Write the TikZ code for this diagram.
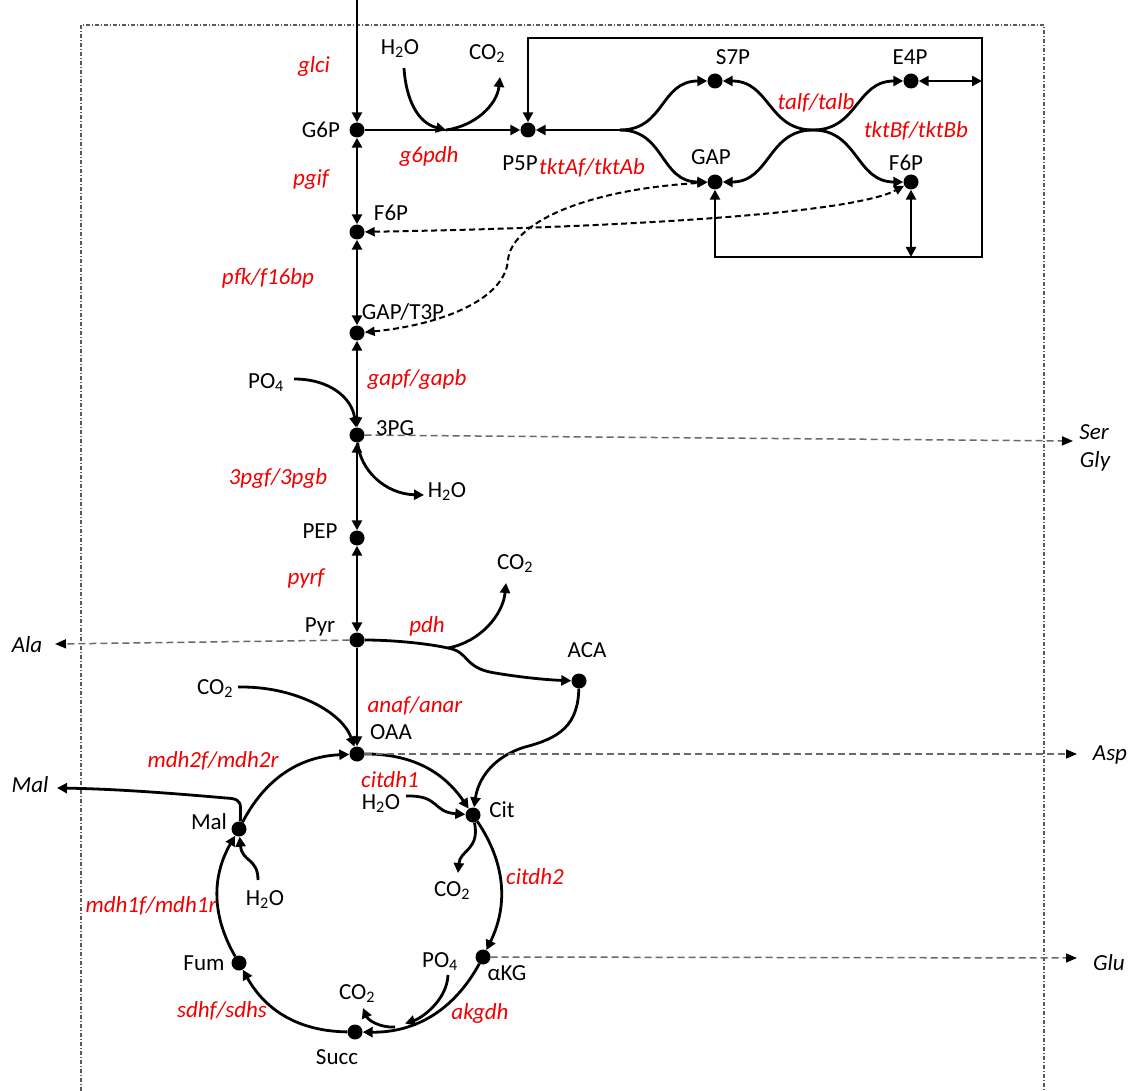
\documentclass[tikz,border=0pt]{standalone}
\usepackage{fontspec}
\setmainfont{Carlito}
\usetikzlibrary{arrows.meta}
\definecolor{rxn}{RGB}{240,0,0}
\definecolor{exgray}{RGB}{105,105,105}
\definecolor{framegray}{RGB}{90,90,90}
\begin{document}
\begin{tikzpicture}[x=1pt,y=1pt,
  mdot/.style={circle,fill=black,inner sep=0pt,minimum size=15pt},
  lab/.style={inner sep=0pt,text height=14.5pt,text depth=0pt,font=\fontsize{23}{27}\selectfont},
  enz/.style={lab,text=rxn,font=\fontsize{23}{27}\selectfont\itshape},
  exl/.style={lab,font=\fontsize{23}{27}\selectfont\itshape},
  ln/.style={line width=2.8pt},
  arr/.style={ln,-{Triangle[length=10pt,width=10pt]}},
  darr/.style={ln,{Triangle[length=10pt,width=10pt]}-{Triangle[length=10pt,width=10pt]}},
  bdash/.style={line width=2pt,dash pattern=on 6pt off 3.5pt,{Triangle[length=10pt,width=9pt]}-{Triangle[length=10pt,width=9pt]}},
  gdash/.style={exgray,line width=1.5pt,dash pattern=on 7pt off 4pt,-{Triangle[length=11pt,width=9pt,color=black]}},
  frameline/.style={framegray,line width=1.1pt,dash pattern=on 4pt off 2pt on 1pt off 2pt}
]
\useasboundingbox (0,0) rectangle (1138,-1091);
% frame
\draw[frameline] (81,-1091) -- (81,-25) -- (1044,-25) -- (1044,-1091);

% metabolite dots
\node[mdot] (G6P) at (357,-130) {};
\node[mdot] (F6Pm) at (357,-232) {};
\node[mdot] (GAPm) at (357,-333) {};
\node[mdot] (PG3) at (357,-435) {};
\node[mdot] (PEP) at (357,-538) {};
\node[mdot] (Pyr) at (357,-640) {};
\node[mdot] (OAA) at (357,-754) {};
\node[mdot] (Cit) at (473,-815) {};
\node[mdot] (AKG) at (483,-957) {};
\node[mdot] (Succ) at (355,-1032) {};
\node[mdot] (Fum) at (239,-963) {};
\node[mdot] (Mal) at (239,-829) {};
\node[mdot] (ACA) at (579,-681) {};
\node[mdot] (P5P) at (528,-130) {};
\node[mdot] (S7P) at (715,-81) {};
\node[mdot] (E4P) at (911,-81) {};
\node[mdot] (GAPp) at (715,-182) {};
\node[mdot] (F6Pp) at (911,-182) {};

% coordinates
\coordinate (top) at (357,0);
\coordinate (br) at (620,-130);
\coordinate (cx) at (813,-130);
\coordinate (rTL) at (528,-38);
\coordinate (rTR) at (982,-38);
\coordinate (rBR) at (982,-257);
\coordinate (rBL) at (715,-257);
\coordinate (rE4) at (982,-81);
\coordinate (bF6) at (911,-257);

% spine
\draw[arr] (top) -- (G6P);
\draw[darr] (G6P) -- (F6Pm);
\draw[darr] (F6Pm) -- (GAPm);
\draw[darr] (GAPm) -- (PG3);
\draw[darr] (PG3) -- (PEP);
\draw[darr] (PEP) -- (Pyr);
\draw[arr] (Pyr) -- (OAA);

% pentose phosphate
\draw[arr] (G6P) -- (P5P);
\draw[arr] (br) -- (P5P);
\draw[arr] (br) .. controls (665,-130) and (660,-81) .. (S7P);
\draw[arr] (br) .. controls (665,-130) and (660,-182) .. (GAPp);
\draw[arr] (cx) .. controls (768,-130) and (770,-81) .. (S7P);
\draw[arr] (cx) .. controls (768,-130) and (770,-182) .. (GAPp);
\draw[arr] (cx) .. controls (858,-130) and (856,-81) .. (E4P);
\draw[arr] (cx) .. controls (858,-130) and (856,-182) .. (F6Pp);
\draw[darr] (P5P) -- (rTL) -- (rTR) -- (rBR) -- (rBL) -- (GAPp);
\draw[darr] (E4P) -- (rE4);
\draw[darr] (F6Pp) -- (bF6);

% g6pdh side reactants
\node[lab] (H2Oa) at (400,-47) {H\textsubscript{2}O};
\node[lab] (CO2a) at (487,-52) {CO\textsubscript{2}};
\coordinate (h2oaS) at (404,-68);
\coordinate (g6m) at (446,-130);
\coordinate (co2aE) at (500,-77);
\draw[arr] (h2oaS) .. controls (406,-100) and (418,-123) .. (g6m);
\draw[arr] (g6m) .. controls (475,-126) and (497,-105) .. (co2aE);

% 3PG side reactants
\node[lab] (PO4a) at (266,-381) {PO\textsubscript{4}};
\coordinate (po4aE) at (294,-379);
\draw[arr] (po4aE) .. controls (330,-379) and (352,-398) .. (PG3);
\node[lab] (H2Ob) at (447,-490) {H\textsubscript{2}O};
\coordinate (h2obW) at (424,-495);
\draw[arr] (PG3) .. controls (360,-470) and (385,-494) .. (h2obW);

% pdh
\node[lab] (CO2c) at (515,-562) {CO\textsubscript{2}};
\coordinate (pdhs) at (448,-648);
\coordinate (co2cS) at (506,-583);
\draw[ln] (Pyr) .. controls (390,-640) and (425,-643) .. (pdhs);
\draw[arr] (pdhs) .. controls (480,-642) and (503,-615) .. (co2cS);
\draw[arr] (pdhs) .. controls (470,-652) and (463,-668) .. (495,-673) .. controls (525,-678) and (550,-680) .. (ACA);

% anaplerotic CO2
\node[lab] (CO2d) at (215,-687) {CO\textsubscript{2}};
\coordinate (co2dE) at (238,-687);
\draw[arr] (co2dE) .. controls (295,-686) and (342,-712) .. (OAA);

% ACA to Cit
\draw[arr] (ACA) .. controls (578,-725) and (560,-738) .. (525,-747) .. controls (492,-757) and (478,-780) .. (Cit);

% H2O to Cit
\node[lab] (H2Oc) at (381,-802) {H\textsubscript{2}O};
\coordinate (h2ocE) at (406,-796);
\draw[arr] (h2ocE) .. controls (440,-795) and (432,-812) .. (Cit);

% Cit to CO2
\node[lab] (CO2e) at (452,-889) {CO\textsubscript{2}};
\coordinate (co2eN) at (458,-873);
\draw[arr] (Cit) .. controls (480,-850) and (460,-850) .. (co2eN);

% akgdh
\node[lab] (PO4b) at (440,-960) {PO\textsubscript{4}};
\coordinate (po4bS) at (448,-975);
\coordinate (akj) at (405,-1023.5);
\draw[arr] (po4bS) .. controls (447,-1000) and (422,-1018) .. (akj);
\node[lab] (CO2f) at (357,-992) {CO\textsubscript{2}};
\coordinate (co2fs) at (395,-1027);
\coordinate (co2fE) at (363,-1008);
\draw[arr] (co2fs) .. controls (380,-1028) and (368,-1020) .. (co2fE);

% H2O to Mal
\node[lab] (H2Od) at (265,-898) {H\textsubscript{2}O};
\coordinate (h2odN) at (258,-880);
\draw[arr] (h2odN) .. controls (258,-858) and (242,-862) .. (Mal);

% Mal export
\coordinate (aMal) at (57,-788);
\draw[arr] (Mal.80) -- (240.5,-808) .. controls (240.5,-800) and (236,-798.5) .. (226,-798) .. controls (180,-794) and (120,-789) .. (aMal);

% TCA cycle
\draw[arr] (OAA) to[bend left=28] (Cit);
\draw[arr] (Cit) to[bend left=30] (AKG);
\draw[arr] (AKG) to[bend left=31] (Succ);
\draw[arr] (Succ) to[bend left=30] (Fum);
\draw[arr] (Fum) to[bend left=30] (Mal);
\draw[arr] (Mal) to[bend left=30] (OAA);

% exports (grey dashed)
\coordinate (aSer) at (1073,-441);
\coordinate (aAla) at (55,-644);
\coordinate (aAsp) at (1077,-754);
\coordinate (aGlu) at (1077,-958);
\draw[gdash] (PG3) -- (aSer);
\draw[gdash] (Pyr) -- (aAla);
\draw[gdash] (OAA) -- (aAsp);
\draw[gdash] (AKG) -- (aGlu);

% black dashed links
\draw[bdash] (F6Pm) .. controls (600,-228) and (850,-215) .. (F6Pp);
\draw[bdash] (GAPm) .. controls (440,-325) and (505,-300) .. (508,-260) .. controls (511,-225) and (580,-190) .. (GAPp);

% metabolite labels
\node[lab] (tG6P) at (321,-130) {G6P};
\node[lab] (tF6Pm) at (391,-213) {F6P};
\node[lab] (tGAPm) at (403,-312) {GAP/T3P};
\node[lab] (t3PG) at (395,-428) {3PG};
\node[lab] (tPEP) at (320,-531) {PEP};
\node[lab] (tPyr) at (320,-625) {Pyr};
\node[lab] (tOAA) at (391,-732) {OAA};
\node[lab] (tCit) at (502,-810) {Cit};
\node[lab] (tAKG) at (507,-973) {αKG};
\node[lab] (tSucc) at (337,-1057) {Succ};
\node[lab] (tFum) at (204,-963) {Fum};
\node[lab] (tMal) at (209,-822) {Mal};
\node[lab] (tACA) at (587,-650) {ACA};
\node[lab] (tP5P) at (520,-163) {P5P};
\node[lab] (tS7P) at (733,-57) {S7P};
\node[lab] (tE4P) at (910,-57) {E4P};
\node[lab] (tGAPp) at (711,-157) {GAP};
\node[lab] (tF6Pp) at (906,-163) {F6P};

% enzyme labels
\node[enz] (eglci) at (314,-65) {glci};
\node[enz] (epgif) at (311,-178) {pgif};
\node[enz] (eg6pdh) at (429,-155) {g6pdh};
\node[enz] (etktA) at (592,-167) {tktAf/tktAb};
\node[enz] (etal) at (816,-102) {talf/talb};
\node[enz] (etktB) at (916,-130) {tktBf/tktBb};
\node[enz] (epfk) at (268,-277) {pfk/f16bp};
\node[enz] (egap) at (417,-378) {gapf/gapb};
\node[enz] (e3pg) at (278,-477) {3pgf/3pgb};
\node[enz] (epyrf) at (306,-577) {pyrf};
\node[enz] (epdh) at (427,-625) {pdh};
\node[enz] (eana) at (415,-705) {anaf/anar};
\node[enz] (emdh2) at (213,-760) {mdh2f/mdh2r};
\node[enz] (ecit1) at (390,-780) {citdh1};
\node[enz] (ecit2) at (535,-877) {citdh2};
\node[enz] (emdh1) at (151,-905) {mdh1f/mdh1r};
\node[enz] (esdh) at (222,-1010) {sdhf/sdhs};
\node[enz] (eakg) at (480,-1012) {akgdh};

% export labels
\node[exl] (tSer) at (1094,-432) {Ser};
\node[exl] (tGly) at (1095,-460) {Gly};
\node[exl] (tAla) at (27,-645) {Ala};
\node[exl] (tAsp) at (1110,-753) {Asp};
\node[exl] (tGlu) at (1109,-963) {Glu};
\node[exl] (tMalx) at (30,-785) {Mal};
\end{tikzpicture}
\end{document}
